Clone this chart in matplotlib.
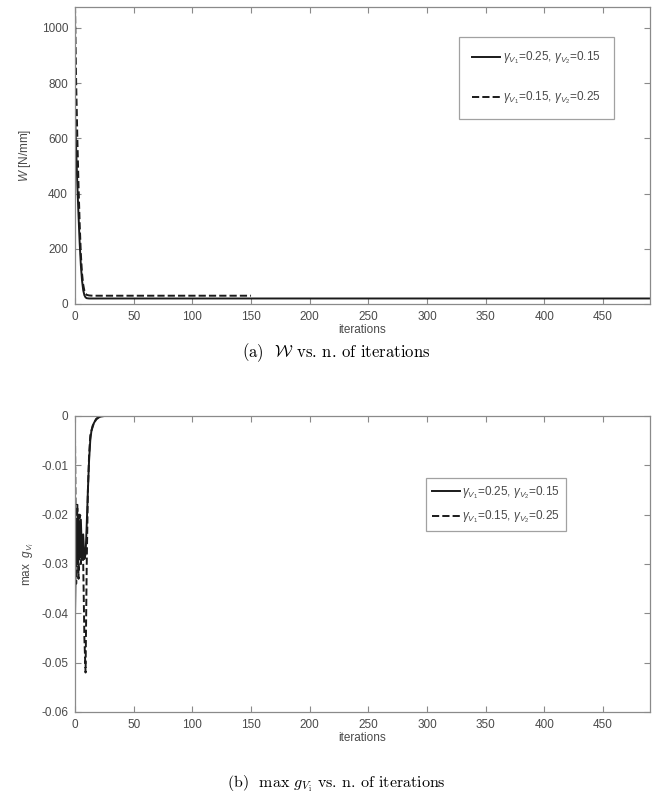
import matplotlib
matplotlib.use('Agg')
import matplotlib.pyplot as plt
import numpy as np

# ---- data ----
# (a) objective W [N/mm] vs iterations
w_iter_a = [0, 1, 2, 3, 4, 5, 6, 7, 8, 9, 10, 12, 15, 500]
w_vals_a = [690, 560, 430, 320, 220, 140, 85, 50, 32, 24, 21, 20, 20, 20]
w_iter_b = [0, 1, 2, 3, 4, 5, 6, 7, 8, 9, 10, 12, 15, 150]
w_vals_b = [1080, 800, 600, 430, 290, 180, 110, 70, 48, 38, 33, 31, 30, 30]

# (b) max g_Vi vs iterations
g_iter_a = [0, 1, 2, 3, 4, 5, 6, 7, 8, 9, 10, 11, 12, 13, 14, 16, 18, 20, 25, 500]
g_vals_a = [-0.041, -0.022, -0.030, -0.020, -0.028, -0.021, -0.029, -0.024, -0.029,
            -0.028, -0.022, -0.015, -0.009, -0.005, -0.003, -0.0015, -0.0006,
            -0.0002, 0.0, 0.0]
g_iter_b = [0, 1, 2, 3, 4, 5, 6, 7, 8, 9, 10, 11, 12, 13, 15, 18, 22, 150]
g_vals_b = [-0.004, -0.034, -0.018, -0.033, -0.020, -0.030, -0.025, -0.030, -0.045,
            -0.052, -0.030, -0.015, -0.008, -0.004, -0.002, -0.0007, 0.0, 0.0]

labels = [r'$\gamma_{V_1}$=0.25, $\gamma_{V_2}$=0.15',
          r'$\gamma_{V_1}$=0.15, $\gamma_{V_2}$=0.25']

x_ticks = list(range(0, 451, 50))

plt.rcParams['font.family'] = ['Liberation Sans', 'DejaVu Sans']
plt.rcParams['mathtext.fontset'] = 'custom'
plt.rcParams['mathtext.rm'] = 'Liberation Sans'
plt.rcParams['mathtext.it'] = 'Liberation Sans:italic'

axis_col = '#8a8a8a'
text_col = '#4a4a4a'
line_col = '#1a1a1a'
fs = 8.5

fig = plt.figure(figsize=(6.53, 7.97), dpi=100)
W, H = 653, 797
ax1 = fig.add_axes([75 / W, 1 - 304 / H, 575 / W, 297 / H])
ax2 = fig.add_axes([75 / W, 1 - 712 / H, 575 / W, 296 / H])


def style(ax):
    for s in ax.spines.values():
        s.set_color(axis_col)
        s.set_linewidth(0.9)
    ax.tick_params(direction='in', top=True, right=True, length=4,
                   width=0.8, color=axis_col, labelsize=fs, labelcolor=text_col,
                   pad=5)
    ax.set_xticks(x_ticks)
    ax.set_xlim(0, 490)
    ax.set_xlabel('iterations', fontsize=fs, color=text_col, labelpad=1)


ax1.plot(w_iter_a, w_vals_a, '-', color=line_col, lw=1.4, label=labels[0])
ax1.plot(w_iter_b, w_vals_b, '--', color=line_col, lw=1.4, label=labels[1])
style(ax1)
ax1.set_ylim(0, 1076)
ax1.set_yticks([0, 200, 400, 600, 800, 1000])
ax1.set_ylabel(r'$\mathit{W}$ [N/mm]', fontsize=fs, color=text_col, labelpad=6)
leg1 = ax1.legend(loc='upper left', bbox_to_anchor=(0.668, 0.9), fontsize=fs,
                  labelspacing=2.0, borderpad=1.1, handlelength=2.4,
                  handletextpad=0.2, fancybox=False, edgecolor=axis_col,
                  borderaxespad=0)
leg1.get_frame().set_linewidth(0.9)
for t in leg1.get_texts():
    t.set_color(text_col)

ax2.plot(g_iter_a, g_vals_a, '-', color=line_col, lw=1.4, label=labels[0])
ax2.plot(g_iter_b, g_vals_b, '--', color=line_col, lw=1.4, label=labels[1])
style(ax2)
ax2.set_ylim(-0.06, 0)
ax2.set_yticks([-0.06, -0.05, -0.04, -0.03, -0.02, -0.01, 0])
ax2.set_yticklabels(['-0.06', '-0.05', '-0.04', '-0.03', '-0.02', '-0.01', '0'])
ax2.set_ylabel(r'max  $g_{V_i}$', fontsize=fs, color=text_col, labelpad=4)
leg2 = ax2.legend(loc='upper left', bbox_to_anchor=(0.61, 0.79), fontsize=fs,
                  labelspacing=0.7, borderpad=0.5, handlelength=2.4,
                  handletextpad=0.2, fancybox=False, edgecolor=axis_col,
                  borderaxespad=0)
leg2.get_frame().set_linewidth(0.9)
for t in leg2.get_texts():
    t.set_color(text_col)

fig.text(0.515, 1 - 353 / H, r'(a)  $\mathcal{W}$ vs. n. of iterations',
         ha='center', va='center', fontsize=12, family='cmr10',
         math_fontfamily='cm')
fig.text(0.515, 1 - 784 / H, r'(b)  max $g_{V_{\rm i}}$ vs. n. of iterations',
         ha='center', va='center', fontsize=11.5, family='cmr10',
         math_fontfamily='cm')

fig.savefig('out.png', dpi=100)
